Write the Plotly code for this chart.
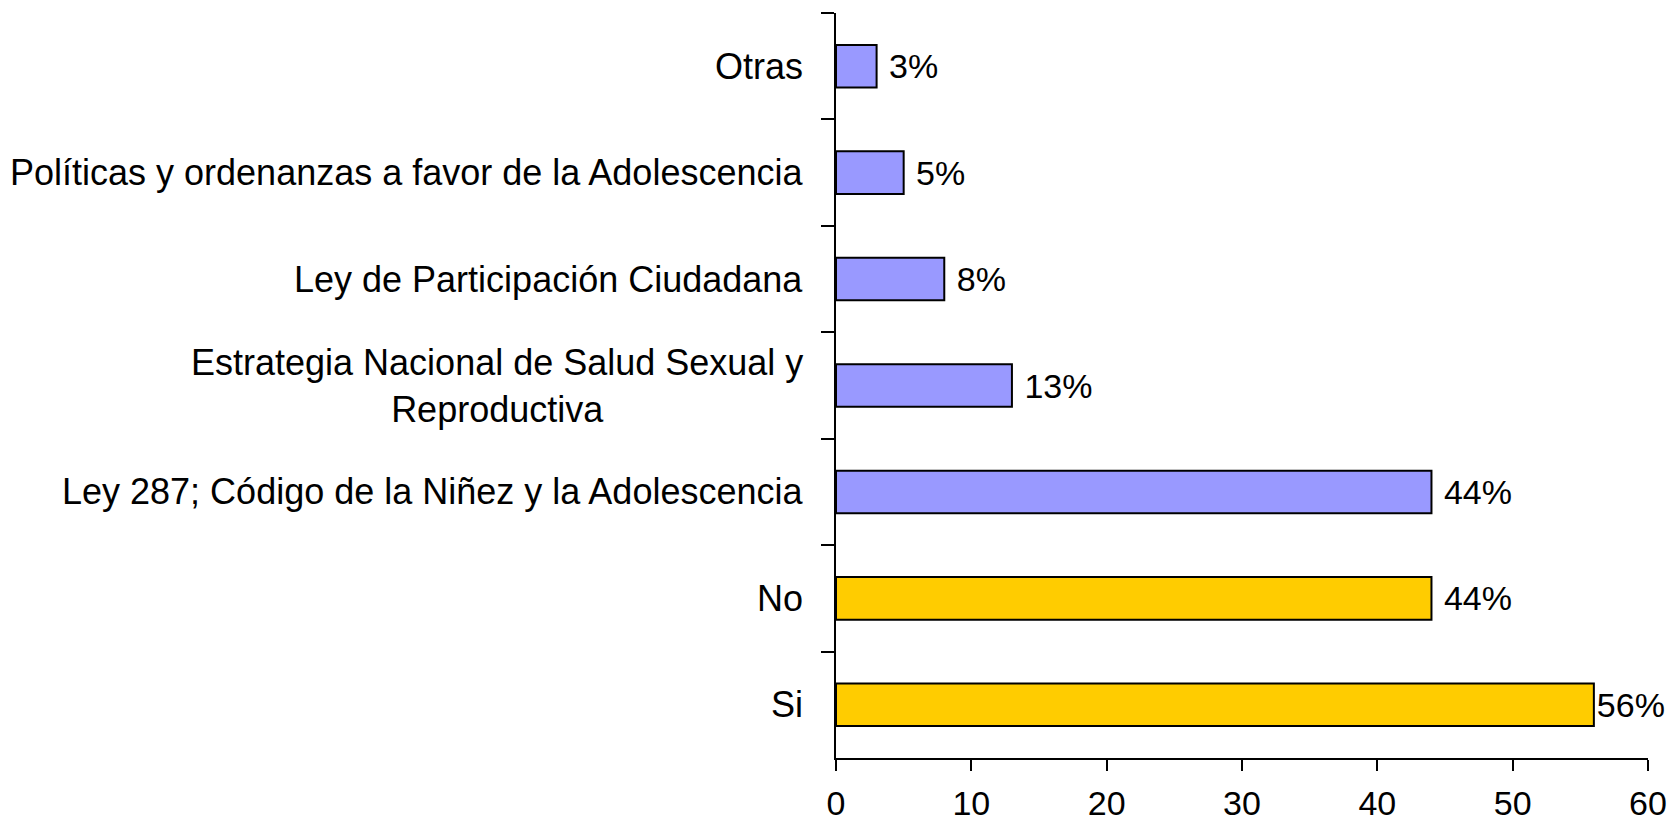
import plotly.graph_objects as go

categories = [
    "Otras",
    "Políticas y ordenanzas a favor de la Adolescencia",
    "Ley de Participación Ciudadana",
    "Estrategia Nacional de Salud Sexual y<br>Reproductiva",
    "Ley 287; Código de la Niñez y la Adolescencia",
    "No",
    "Si",
]
values = [3, 5, 8, 13, 44, 44, 56]
colors = ["#9999FF"] * 5 + ["#FFCC00"] * 2
x_ticks = [0, 10, 20, 30, 40, 50, 60]

FONT = "Liberation Sans, Arial, sans-serif"
FS = 34
FS_CAT = 36

# the longest bar's label sits tight against the bar (it would not fit otherwise)
labels = [(f"{v}%" if v == max(values) else f" {v}%") for v in values]

fig = go.Figure()
fig.add_trace(go.Bar(
    y=categories,
    x=values,
    orientation="h",
    marker=dict(color=colors, line=dict(color="#000000", width=2)),
    text=labels,
    textposition="outside",
    textfont=dict(family=FONT, size=FS, color="#000000"),
    cliponaxis=False,
    width=0.4,
))

for c in categories:
    fig.add_annotation(
        x=0, y=c, xref="x", yref="y",
        text=c, showarrow=False,
        xanchor="right", yanchor="middle", align="center",
        xshift=-31,
        font=dict(family=FONT, size=FS_CAT, color="#000000"),
    )

fig.update_layout(
    width=1673, height=822,
    margin=dict(l=836, r=25, t=13, b=64),
    paper_bgcolor="white", plot_bgcolor="white",
    showlegend=False,
    font=dict(family=FONT, size=FS, color="#000000"),
)
fig.update_xaxes(
    range=[0, 60], tickvals=x_ticks, automargin=False,
    showgrid=False, zeroline=False,
    showline=True, linecolor="#000000", linewidth=2,
    ticks="outside", ticklen=11, tickwidth=2, tickcolor="#000000",
    ticklabelstandoff=3,
    tickfont=dict(family=FONT, size=FS, color="#000000"),
)
fig.update_yaxes(
    type="category", autorange="reversed", automargin=False,
    showticklabels=False,
    tickson="boundaries",
    showgrid=False, zeroline=False,
    showline=True, linecolor="#000000", linewidth=2,
    ticks="outside", ticklen=13, tickwidth=2, tickcolor="#000000",
)

fig.write_html(
    "out.html",
    config={"displayModeBar": False},
    post_script="document.body.style.margin='0';document.body.style.overflow='hidden';",
)
